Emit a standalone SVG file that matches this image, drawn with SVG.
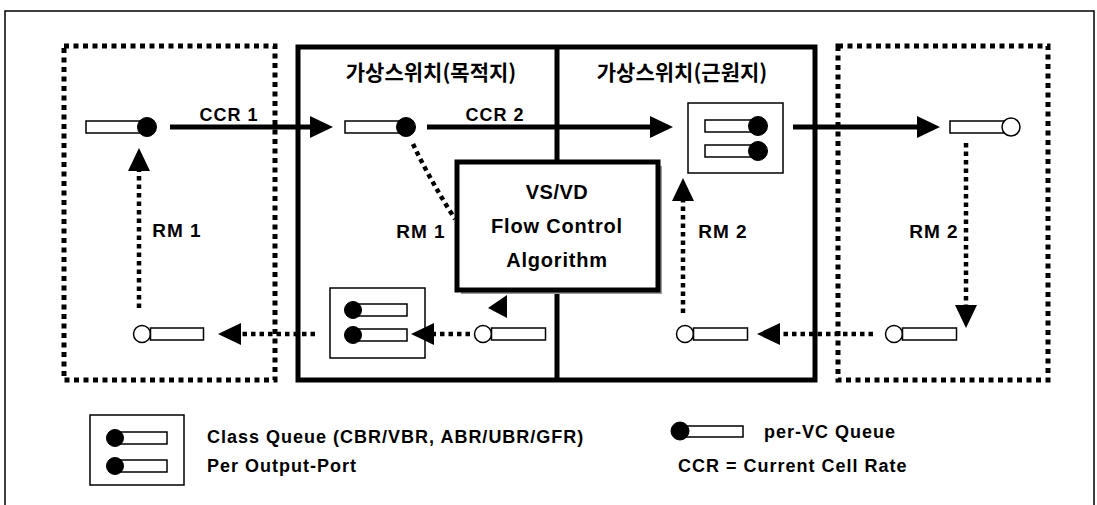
<svg xmlns="http://www.w3.org/2000/svg" width="1097" height="505" viewBox="0 0 1097 505">
  <style>
    .frame{fill:none;stroke:#000;stroke-width:1.5}
    .solid{fill:none;stroke:#000;stroke-width:5}
    .thin{fill:none;stroke:#000;stroke-width:1.5}
    .boxdots{fill:none;stroke:#000;stroke-width:5;stroke-dasharray:5 4.5}
    .dots{fill:none;stroke:#000;stroke-width:4.5;stroke-dasharray:4.5 4}
    .q{fill:#fff;stroke:#000;stroke-width:1.5}
    .qf{fill:#000;stroke:#000;stroke-width:1}
    .qo{fill:#fff;stroke:#000;stroke-width:1.5}
    .lbl{font-family:"Liberation Sans",Arial,sans-serif;font-weight:bold;fill:#000}
    .kr{font-family:"Noto Sans CJK KR","Liberation Sans",sans-serif;font-weight:bold;font-size:21px;fill:#000}
    .mid{text-anchor:middle}
  </style>
  <defs>
    <marker id="ah" markerUnits="userSpaceOnUse" markerWidth="24" markerHeight="24" orient="auto" overflow="visible" refX="0" refY="0">
      <path d="M0,-11 L23,0 L0,11 Z" fill="#000"/>
    </marker>
  </defs>
  <rect width="1097" height="505" fill="#fff"/>
  <path class="frame" d="M5,505 V11 H1094 V505"/>

  <g id="left-host">
    <rect class="boxdots" x="64" y="46" width="211" height="334"/>
  </g>
  <g id="right-host">
    <rect class="boxdots" x="838" y="46" width="210" height="334"/>
  </g>
  <g id="virtual-switch">
    <path class="solid" d="M298,47 H815 V380 H298 Z"/>
    <path class="solid" d="M557,47 V162 M557,290 V380"/>
    <text class="kr mid" x="431" y="80">가상스위치(목적지)</text>
    <text class="kr mid" x="682" y="80">가상스위치(근원지)</text>
  </g>
  <g id="vsvd">
    <rect x="461" y="166" width="201" height="128" fill="#9a9a9a"/>
    <rect x="457" y="162" width="201" height="128" fill="#fff" stroke="#000" stroke-width="5"/>
    <text class="lbl mid" x="557" y="199" font-size="20" letter-spacing="0.5">VS/VD</text>
    <text class="lbl mid" x="557" y="233" font-size="20" letter-spacing="0.8">Flow Control</text>
    <text class="lbl mid" x="557" y="267" font-size="20" letter-spacing="0.8">Algorithm</text>
  </g>

  <g id="queue-src-top">
    <rect class="q" x="86" y="121" width="54" height="12"/>
    <circle class="qf" cx="147" cy="127" r="9.5"/>
  </g>
  <g id="queue-dst-top">
    <rect class="q" x="345" y="121" width="54" height="12"/>
    <circle class="qf" cx="406" cy="127" r="9.5"/>
  </g>
  <g id="class-queue-top">
    <rect class="thin" x="688" y="103" width="95" height="70" fill="#fff"/>
    <rect class="q" x="705" y="120" width="50" height="12"/>
    <circle class="qf" cx="758" cy="126" r="9.5"/>
    <rect class="q" x="705" y="145" width="50" height="12"/>
    <circle class="qf" cx="758" cy="151" r="9.5"/>
  </g>
  <g id="queue-right-top">
    <rect class="q" x="950" y="121" width="54" height="12"/>
    <circle class="qo" cx="1011" cy="127" r="9"/>
  </g>

  <g id="queue-src-bottom">
    <circle class="qo" cx="142" cy="334" r="8.5"/>
    <rect class="q" x="150.5" y="328" width="53" height="12"/>
  </g>
  <g id="class-queue-bottom">
    <rect class="thin" x="330" y="288" width="95" height="70" fill="#fff"/>
    <rect class="q" x="358" y="304" width="49" height="12"/>
    <circle class="qf" cx="353" cy="310" r="8.5"/>
    <rect class="q" x="358" y="329" width="49" height="12"/>
    <circle class="qf" cx="353" cy="335" r="8.5"/>
  </g>
  <g id="queue-dst-bottom">
    <circle class="qo" cx="483" cy="334" r="8.5"/>
    <rect class="q" x="491.5" y="328" width="54" height="12"/>
  </g>
  <g id="queue-mid-bottom">
    <circle class="qo" cx="685" cy="334" r="8.5"/>
    <rect class="q" x="693.5" y="328" width="54" height="12"/>
  </g>
  <g id="queue-right-bottom">
    <circle class="qo" cx="894" cy="334" r="8.5"/>
    <rect class="q" x="902.5" y="328" width="54" height="12"/>
  </g>

  <g id="connectors">
    <path class="solid" d="M170,127 H310" marker-end="url(#ah)"/>
    <path class="solid" d="M427,127 H650" marker-end="url(#ah)"/>
    <path class="solid" d="M793,127 H917" marker-end="url(#ah)"/>
    <path class="dots" d="M139,308 V171" marker-end="url(#ah)"/>
    <path class="dots" d="M966,143 V305" marker-end="url(#ah)"/>
    <path class="dots" d="M683,313 V201" marker-end="url(#ah)"/>
    <path class="dots" d="M413,144 Q430,180 455,219"/>
    <path class="dots" d="M315,334 H241" marker-end="url(#ah)"/>
    <path class="dots" d="M470,334 H434" marker-end="url(#ah)"/>
    <path class="dots" d="M873,334 H780" marker-end="url(#ah)"/>
    <polygon points="507,295 507,318 488,308" fill="#000"/>
    <text class="lbl mid" x="229" y="121" font-size="18" letter-spacing="1">CCR 1</text>
    <text class="lbl mid" x="495" y="121" font-size="18" letter-spacing="1">CCR 2</text>
    <text class="lbl mid" x="177" y="237" font-size="19" letter-spacing="1">RM 1</text>
    <text class="lbl mid" x="421" y="238" font-size="19" letter-spacing="1">RM 1</text>
    <text class="lbl mid" x="723" y="238" font-size="19" letter-spacing="1">RM 2</text>
    <text class="lbl mid" x="934" y="238" font-size="19" letter-spacing="1">RM 2</text>
  </g>

  <g id="legend-class-queue">
    <rect class="thin" x="90" y="415" width="94" height="70" fill="#fff"/>
    <rect class="q" x="118" y="432" width="49" height="12"/>
    <circle class="qf" cx="115" cy="438" r="8.5"/>
    <rect class="q" x="118" y="460" width="49" height="12"/>
    <circle class="qf" cx="115" cy="466" r="8.5"/>
    <text class="lbl" x="207" y="443" font-size="18" letter-spacing="1">Class Queue (CBR/VBR, ABR/UBR/GFR)</text>
    <text class="lbl" x="207" y="472" font-size="18" letter-spacing="1">Per Output-Port</text>
  </g>
  <g id="legend-per-vc">
    <rect class="q" x="686" y="426" width="57" height="11"/>
    <circle class="qf" cx="680" cy="431" r="9"/>
    <text class="lbl" x="764" y="438" font-size="18" letter-spacing="1">per-VC Queue</text>
    <text class="lbl" x="678" y="472" font-size="18" letter-spacing="1">CCR = Current Cell Rate</text>
  </g>
</svg>
